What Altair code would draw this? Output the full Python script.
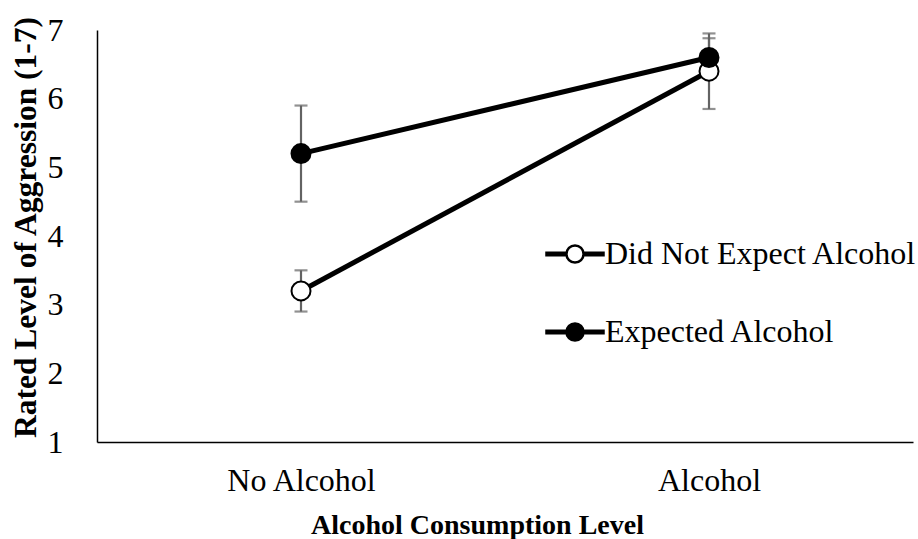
import altair as alt
import pandas as pd

consumption = ["No Alcohol", "Alcohol", "No Alcohol", "Alcohol"]
condition = ["Did Not Expect Alcohol", "Did Not Expect Alcohol", "Expected Alcohol", "Expected Alcohol"]
means = [3.2, 6.4, 5.2, 6.6]
errors = [0.3, 0.55, 0.7, 0.28]

x_order = ["No Alcohol", "Alcohol"]
cond_order = ["Did Not Expect Alcohol", "Expected Alcohol"]

df = pd.DataFrame({
    "Consumption": consumption,
    "Condition": condition,
    "Mean": means,
    "Err": errors,
})
df["Lo"] = df["Mean"] - df["Err"]
df["Hi"] = df["Mean"] + df["Err"]

FONT = "Liberation Serif"

x_enc = alt.X("Consumption:N", sort=x_order,
              scale=alt.Scale(type="point", padding=0.5),
              axis=alt.Axis(title="Alcohol Consumption Level", labelAngle=0,
                            titleX=380, titleY=91, titleBaseline="alphabetic",
                            titleAnchor="start", titleAlign="center"))
y_scale = alt.Scale(domain=[1, 7], nice=False, zero=False)
y_enc = alt.Y("Mean:Q", scale=y_scale,
              axis=alt.Axis(title="Rated Level of Aggression (1-7)", values=[1, 2, 3, 4, 5, 6, 7],
                            format="d",
                            titleX=-62, titleY=197, titleBaseline="alphabetic",
                            titleAnchor="start", titleAlign="center"))

base = alt.Chart(df)

err_rule = base.mark_rule(color="#636363", strokeWidth=2.2).encode(
    x=x_enc, y=alt.Y("Lo:Q", scale=y_scale), y2="Hi:Q")
cap_lo = base.mark_tick(color="#636363", thickness=2.2, size=13, orient="horizontal").encode(
    x=x_enc, y=alt.Y("Lo:Q", scale=y_scale))
cap_hi = base.mark_tick(color="#636363", thickness=2.2, size=13, orient="horizontal").encode(
    x=x_enc, y=alt.Y("Hi:Q", scale=y_scale))

lines = base.mark_line(color="black", strokeWidth=5).encode(
    x=x_enc, y=y_enc, detail="Condition:N")

legend_path = ("M-1,-0.044 L-0.30,-0.044 L-0.30,0.044 L-1,0.044 Z "
               "M0.30,-0.044 L1,-0.044 L1,0.044 L0.30,0.044 Z "
               "M0.30,0 A0.30,0.30 0 1,1 -0.30,0 A0.30,0.30 0 1,1 0.30,0 Z")

points = base.mark_point(shape="circle", filled=True, stroke="black", strokeWidth=2,
                         size=361, opacity=1).encode(
    x=x_enc, y=y_enc,
    fill=alt.Fill("Condition:N", sort=cond_order,
                  scale=alt.Scale(domain=cond_order, range=["white", "black"]),
                  legend=alt.Legend(title=None, orient="none", legendX=448, legendY=194,
                                    symbolType=legend_path, symbolSize=3249,
                                    symbolStrokeColor="black", symbolStrokeWidth=2.5,
                                    symbolOpacity=1,
                                    labelFont=FONT, labelFontSize=32, labelColor="black",
                                    labelLimit=500, labelOffset=0, rowPadding=32,
                                    padding=0)),
    order=alt.Order("Condition:N", sort="ascending"))

chart = alt.layer(err_rule, cap_lo, cap_hi, lines, points).properties(
    width=816, height=412,
    autosize=alt.AutoSizeParams(type="none"),
    padding={"left": 97, "top": 30, "right": 5, "bottom": 97},
    background="white",
).configure_view(stroke=None).configure_axis(
    grid=False, ticks=False, tickSize=0,
    domainColor="black", domainWidth=1.5,
    labelFont=FONT, labelFontSize=32, labelColor="black",
    titleFont=FONT, titleFontWeight="bold", titleColor="black",
).configure_axisX(labelPadding=23, titleFontSize=28
).configure_axisY(labelPadding=34, titleFontSize=31.5)

chart.save("out.html", embed_options={"renderer": "svg", "actions": False})
